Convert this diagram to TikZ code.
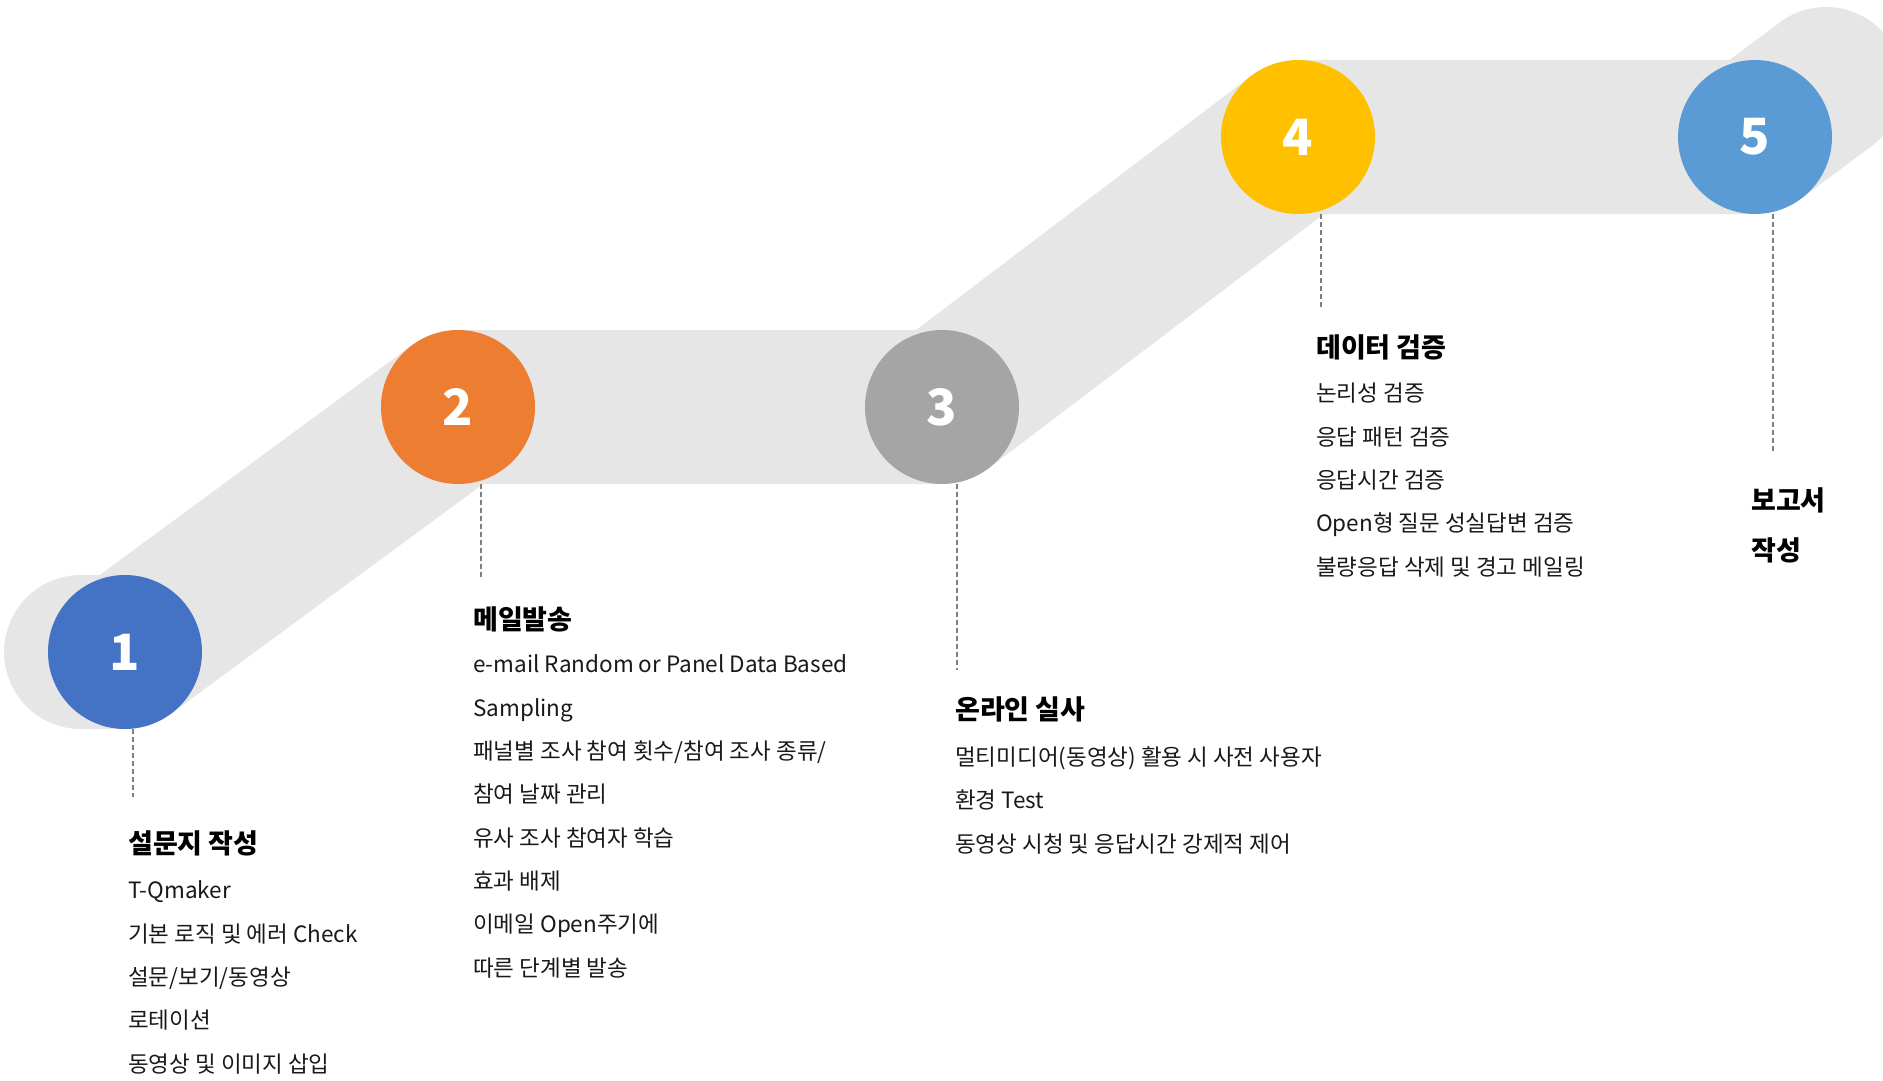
\documentclass[tikz,border=0pt]{standalone}
\usepackage{fontspec}
\setmainfont{Noto Sans CJK KR}
\usepackage{tikz}
\usetikzlibrary{positioning}
\definecolor{bandgray}{HTML}{E6E6E6}
\definecolor{leadergray}{HTML}{7F7F7F}
\definecolor{stepone}{HTML}{4472C4}
\definecolor{steptwo}{HTML}{ED7D31}
\definecolor{stepthree}{HTML}{A5A5A5}
\definecolor{stepfour}{HTML}{FFC000}
\definecolor{stepfive}{HTML}{5B9BD5}
\tikzset{band/.style = {line width=154pt, bandgray, line join=bevel, line cap=round}}
\tikzset{stepdot/.style = {circle, minimum size=154pt, inner sep=0, text=white, font=\fontsize{50}{50}\selectfont\bfseries}}
\tikzset{leader/.style = {leadergray, line width=1.2pt, dash pattern=on 5pt off 3pt}}
\tikzset{steptitle/.style = {anchor=base west, inner sep=0, align=left, font=\fontsize{27}{50}\selectfont\bfseries}}
\tikzset{stepbody/.style = {anchor=base west, inner sep=0, align=left, text=black!90, font=\fontsize{22.5}{43.3}\selectfont}}

\begin{document}
\begin{tikzpicture}[x=1pt,y=-1pt]
        \useasboundingbox (0,0) rectangle (1883,1081);
        \coordinate (cap1) at (81,652);
        \coordinate (c1) at (125,652);
        \coordinate (c2) at (458,407);
        \coordinate (c3) at (942,407);
        \coordinate (c4) at (1298,137);
        \coordinate (c5) at (1755,137);
        \coordinate (cap2) at (1826,84);
        \draw [band] (cap1) -- (c1) -- (c2) -- (c3) -- (c4) -- (c5) -- (cap2);
        \node [stepdot, fill=stepone] (s1) at (c1) {1};
        \node [stepdot, fill=steptwo] (s2) at (c2) {2};
        \node [stepdot, fill=stepthree] (s3) at (c3) {3};
        \node [stepdot, fill=stepfour] (s4) at (c4) {4};
        \node [stepdot, fill=stepfive] (s5) at (c5) {5};
        % leaders down to the texts
        \coordinate (d1) at (133,797);
        \coordinate (d2) at (481,580);
        \coordinate (d3) at (957,670);
        \coordinate (d4) at (1321,310);
        \coordinate (d5) at (1773,454);
        \draw [leader] (s1.south -| d1) -- (d1);
        \draw [leader] (s2.south -| d2) -- (d2);
        \draw [leader] (s3.south -| d3) -- (d3);
        \draw [leader] (s4.south -| d4) -- (d4);
        \draw [leader] (s5.south -| d5) -- (d5);
        % texts (multi-line nodes sit on their last baseline)
        \node [steptitle] (t1) at (128,853) {설문지 작성};
        \node [stepbody] (b1) at (128,1072) {T-Qmaker\\기본 로직 및 에러 Check\\설문/보기/동영상\\로테이션\\동영상 및 이미지 삽입};
        \node [steptitle] (t2) at (473,629) {메일발송};
        \node [stepbody] (b2) at (473,976) {e-mail Random or Panel Data Based\\Sampling\\패널별 조사 참여 횟수/참여 조사 종류/\\참여 날짜 관리\\유사 조사 참여자 학습\\효과 배제\\이메일 Open주기에\\따른 단계별 발송};
        \node [steptitle] (t3) at (955,719) {온라인 실사};
        \node [stepbody] (b3) at (955,852) {멀티미디어(동영상) 활용 시 사전 사용자\\환경 Test\\동영상 시청 및 응답시간 강제적 제어};
        \node [steptitle] (t4) at (1316,357) {데이터 검증};
        \node [stepbody] (b4) at (1316,575) {논리성 검증\\응답 패턴 검증\\응답시간 검증\\Open형 질문 성실답변 검증\\불량응답 삭제 및 경고 메일링};
        \node [steptitle] (t5) at (1751,560) {보고서\\작성};
\end{tikzpicture}
\end{document}
